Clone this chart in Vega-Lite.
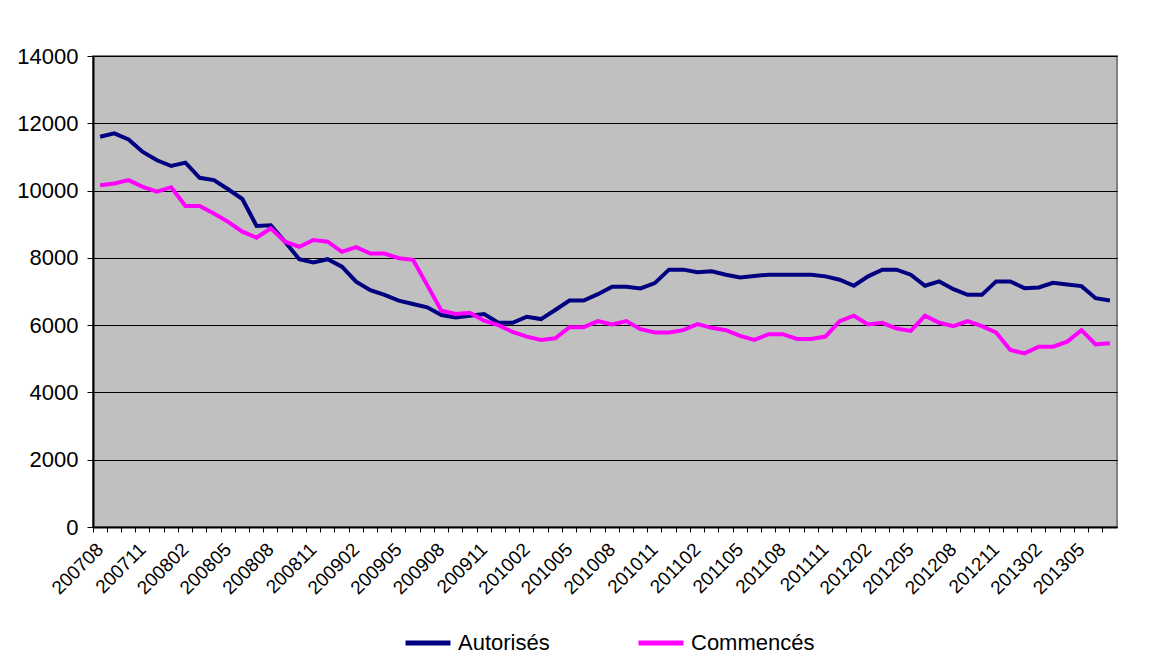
{
  "$schema": "https://vega.github.io/schema/vega-lite/v6.json",
  "width": 1024,
  "height": 471,
  "autosize": {"type": "none"},
  "padding": {"left": 93, "top": 56, "right": 50, "bottom": 143},
  "background": "#FFFFFF",
  "config": {
    "font": "Liberation Sans",
    "view": {"fill": "#C0C0C0", "stroke": "#808080", "strokeWidth": 2}
  },
  "data": {"values": [
    {"month":"200708","Autorisés":11600,"Commencés":10160},
    {"month":"200709","Autorisés":11700,"Commencés":10210},
    {"month":"200710","Autorisés":11520,"Commencés":10310},
    {"month":"200711","Autorisés":11150,"Commencés":10110},
    {"month":"200712","Autorisés":10900,"Commencés":9970},
    {"month":"200801","Autorisés":10730,"Commencés":10100},
    {"month":"200802","Autorisés":10830,"Commencés":9540},
    {"month":"200803","Autorisés":10380,"Commencés":9540},
    {"month":"200804","Autorisés":10310,"Commencés":9320},
    {"month":"200805","Autorisés":10040,"Commencés":9070},
    {"month":"200806","Autorisés":9750,"Commencés":8780},
    {"month":"200807","Autorisés":8950,"Commencés":8600},
    {"month":"200808","Autorisés":8970,"Commencés":8880},
    {"month":"200809","Autorisés":8480,"Commencés":8480},
    {"month":"200810","Autorisés":7960,"Commencés":8330},
    {"month":"200811","Autorisés":7860,"Commencés":8530},
    {"month":"200812","Autorisés":7960,"Commencés":8480},
    {"month":"200901","Autorisés":7740,"Commencés":8180},
    {"month":"200902","Autorisés":7290,"Commencés":8320},
    {"month":"200903","Autorisés":7040,"Commencés":8130},
    {"month":"200904","Autorisés":6900,"Commencés":8130},
    {"month":"200905","Autorisés":6730,"Commencés":7990},
    {"month":"200906","Autorisés":6630,"Commencés":7940},
    {"month":"200907","Autorisés":6530,"Commencés":7190},
    {"month":"200908","Autorisés":6300,"Commencés":6430},
    {"month":"200909","Autorisés":6230,"Commencés":6330},
    {"month":"200910","Autorisés":6280,"Commencés":6370},
    {"month":"200911","Autorisés":6330,"Commencés":6130},
    {"month":"200912","Autorisés":6070,"Commencés":6000},
    {"month":"201001","Autorisés":6070,"Commencés":5800},
    {"month":"201002","Autorisés":6250,"Commencés":5660},
    {"month":"201003","Autorisés":6180,"Commencés":5560},
    {"month":"201004","Autorisés":6450,"Commencés":5610},
    {"month":"201005","Autorisés":6730,"Commencés":5940},
    {"month":"201006","Autorisés":6730,"Commencés":5940},
    {"month":"201007","Autorisés":6920,"Commencés":6120},
    {"month":"201008","Autorisés":7140,"Commencés":6020},
    {"month":"201009","Autorisés":7140,"Commencés":6120},
    {"month":"201010","Autorisés":7090,"Commencés":5880},
    {"month":"201011","Autorisés":7250,"Commencés":5780},
    {"month":"201012","Autorisés":7650,"Commencés":5780},
    {"month":"201101","Autorisés":7650,"Commencés":5850},
    {"month":"201102","Autorisés":7570,"Commencés":6030},
    {"month":"201103","Autorisés":7600,"Commencés":5920},
    {"month":"201104","Autorisés":7500,"Commencés":5850},
    {"month":"201105","Autorisés":7420,"Commencés":5680},
    {"month":"201106","Autorisés":7460,"Commencés":5560},
    {"month":"201107","Autorisés":7500,"Commencés":5730},
    {"month":"201108","Autorisés":7500,"Commencés":5730},
    {"month":"201109","Autorisés":7500,"Commencés":5590},
    {"month":"201110","Autorisés":7500,"Commencés":5590},
    {"month":"201111","Autorisés":7450,"Commencés":5660},
    {"month":"201112","Autorisés":7350,"Commencés":6120},
    {"month":"201201","Autorisés":7170,"Commencés":6280},
    {"month":"201202","Autorisés":7450,"Commencés":6020},
    {"month":"201203","Autorisés":7650,"Commencés":6070},
    {"month":"201204","Autorisés":7650,"Commencés":5900},
    {"month":"201205","Autorisés":7500,"Commencés":5830},
    {"month":"201206","Autorisés":7170,"Commencés":6280},
    {"month":"201207","Autorisés":7300,"Commencés":6070},
    {"month":"201208","Autorisés":7070,"Commencés":5970},
    {"month":"201209","Autorisés":6900,"Commencés":6120},
    {"month":"201210","Autorisés":6900,"Commencés":5970},
    {"month":"201211","Autorisés":7300,"Commencés":5780},
    {"month":"201212","Autorisés":7300,"Commencés":5260},
    {"month":"201301","Autorisés":7100,"Commencés":5160},
    {"month":"201302","Autorisés":7120,"Commencés":5360},
    {"month":"201303","Autorisés":7260,"Commencés":5360},
    {"month":"201304","Autorisés":7210,"Commencés":5510},
    {"month":"201305","Autorisés":7160,"Commencés":5850},
    {"month":"201306","Autorisés":6800,"Commencés":5430},
    {"month":"201307","Autorisés":6730,"Commencés":5460}
  ]},
  "transform": [{"fold": ["Autorisés", "Commencés"], "as": ["series", "value"]}],
  "mark": {"type": "line", "strokeWidth": 4, "strokeJoin": "miter"},
  "encoding": {
    "x": {
      "field": "month", "type": "ordinal", "sort": "ascending",
      "scale": {"type": "band", "paddingInner": 0, "paddingOuter": 0},
      "axis": {
        "title": null,
        "bandPosition": 0,
        "domainColor": "#000000", "domainWidth": 2,
        "tickColor": "#000000", "tickSize": 5, "tickWidth": 1,
        "labelAngle": -45, "labelAlign": "right", "labelBaseline": "middle",
        "labelFontSize": 19, "labelColor": "#000000", "labelPadding": 14,
        "labelDx": -2,
        "labelOverlap": false,
        "labelExpr": "toNumber(slice(datum.value, 4)) % 3 == 2 ? datum.value : ''",
        "grid": false
      }
    },
    "y": {
      "field": "value", "type": "quantitative",
      "scale": {"domain": [0, 14000], "nice": false},
      "axis": {
        "title": null,
        "format": "d",
        "values": [0, 2000, 4000, 6000, 8000, 10000, 12000, 14000],
        "domainColor": "#000000", "domainWidth": 2,
        "tickColor": "#000000", "tickSize": 6, "tickWidth": 1,
        "labelFontSize": 22, "labelColor": "#000000", "labelPadding": 9,
        "grid": true, "gridColor": "#000000", "gridWidth": 1, "gridOpacity": 1
      }
    },
    "color": {
      "field": "series", "type": "nominal",
      "scale": {"domain": ["Autorisés", "Commencés"], "range": ["#000080", "#FF00FF"]},
      "legend": {
        "title": null,
        "orient": "none",
        "direction": "horizontal",
        "legendX": 310,
        "legendY": 562,
        "symbolType": "stroke",
        "symbolSize": 2025,
        "symbolStrokeWidth": 5,
        "labelFontSize": 22,
        "labelColor": "#000000",
        "labelOffset": 5,
        "columnPadding": 78,
        "labelLimit": 300
      }
    }
  }
}
